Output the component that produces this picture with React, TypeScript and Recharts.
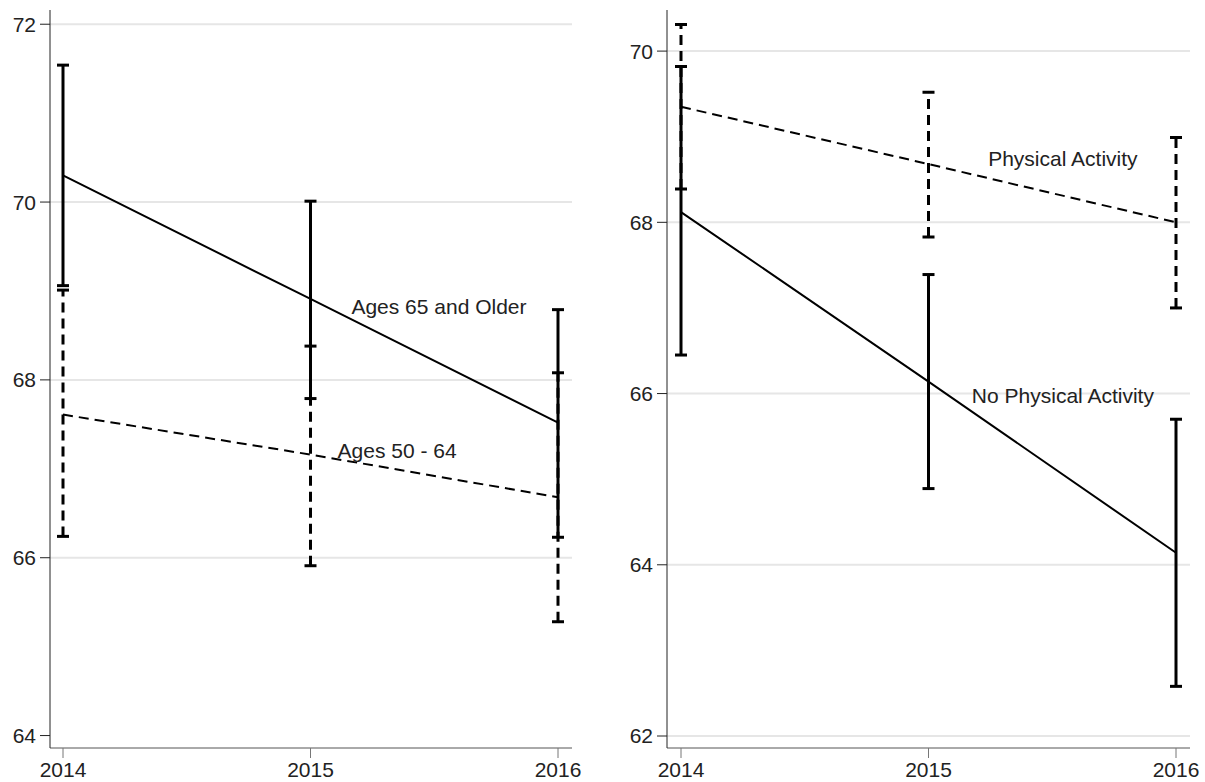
import React from 'react';
import {
  ComposedChart,
  Line,
  XAxis,
  YAxis,
  CartesianGrid,
  ErrorBar,
  ReferenceDot,
} from 'recharts';

// ---- data ----
const years = [2014, 2015, 2016];

// Left panel: age groups
const ages65Mean = [70.3, 68.91, 67.52];
const ages65Low = [69.06, 67.79, 66.23];
const ages65High = [71.54, 70.01, 68.79];

const ages50Mean = [67.61, 67.16, 66.68];
const ages50Low = [66.24, 65.91, 65.28];
const ages50High = [69.01, 68.38, 68.08];

// Right panel: physical activity
const paMean = [69.35, 68.68, 68.0];
const paLow = [68.39, 67.83, 67.0];
const paHigh = [70.31, 69.52, 68.99];

const noPaMean = [68.12, 66.14, 64.14];
const noPaLow = [66.45, 64.89, 62.58];
const noPaHigh = [69.82, 67.39, 65.7];

const leftTicks = [64, 66, 68, 70, 72];
const leftGrid = [66, 68, 70, 72];
const rightTicks = [62, 64, 66, 68, 70];
const rightGrid = [62, 64, 66, 68, 70];

const leftLabels = [
  { text: 'Ages 65 and Older', x: 2015.519, y: 68.82 },
  { text: 'Ages 50 - 64', x: 2015.35, y: 67.21 },
];
const rightLabels = [
  { text: 'Physical Activity', x: 2015.543, y: 68.74 },
  { text: 'No Physical Activity', x: 2015.543, y: 65.98 },
];

const leftData = years.map((year, i) => ({
  year,
  a: ages65Mean[i],
  aErr: [ages65Mean[i] - ages65Low[i], ages65High[i] - ages65Mean[i]],
  aLo: ages65Low[i],
  aHi: ages65High[i],
  b: ages50Mean[i],
  bErr: [ages50Mean[i] - ages50Low[i], ages50High[i] - ages50Mean[i]],
  bLo: ages50Low[i],
  bHi: ages50High[i],
}));

const rightData = years.map((year, i) => ({
  year,
  a: noPaMean[i],
  aErr: [noPaMean[i] - noPaLow[i], noPaHigh[i] - noPaMean[i]],
  aLo: noPaLow[i],
  aHi: noPaHigh[i],
  b: paMean[i],
  bErr: [paMean[i] - paLow[i], paHigh[i] - paMean[i]],
  bLo: paLow[i],
  bHi: paHigh[i],
}));

const FONT = '"Liberation Sans", Arial, Helvetica, sans-serif';
const DASH = '10 6';

const Cap = (props: any) => {
  const { cx, cy, index } = props;
  if (cx == null || cy == null) return <g key={index} />;
  return (
    <line
      key={index}
      x1={cx - 6}
      x2={cx + 6}
      y1={cy}
      y2={cy}
      stroke="#000"
      strokeWidth={3}
    />
  );
};

function Panel({
  data,
  width,
  height,
  yWidth,
  marginRight,
  domain,
  ticks,
  grid,
  labels,
  padLeft,
  padRight,
}: any) {
  return (
    <ComposedChart
      width={width}
      height={height}
      data={data}
      margin={{ top: 10, right: marginRight, bottom: 0, left: 0 }}
      style={{ fontFamily: FONT }}
    >
      <CartesianGrid
        vertical={false}
        horizontalValues={grid}
        stroke="#e6e6e6"
        strokeWidth={2}
      />
      <XAxis
        dataKey="year"
        type="number"
        domain={[2014, 2016]}
        ticks={years}
        interval={0}
        padding={{ left: padLeft, right: padRight }}
        height={34}
        tickSize={10}
        tickMargin={4}
        tick={{ fill: '#222', fontSize: 21, fontFamily: FONT }}
        axisLine={{ stroke: '#555' }}
        tickLine={{ stroke: '#777' }}
      />
      <YAxis
        type="number"
        domain={domain}
        ticks={ticks}
        interval={0}
        allowDataOverflow
        width={yWidth}
        tickSize={10}
        tickMargin={4}
        tick={{ fill: '#222', fontSize: 21, fontFamily: FONT }}
        axisLine={{ stroke: '#222' }}
        tickLine={{ stroke: '#222' }}
      />
      {/* solid series */}
      <Line
        dataKey="a"
        type="linear"
        stroke="#000"
        strokeWidth={2}
        dot={false}
        activeDot={false}
        isAnimationActive={false}
      >
        <ErrorBar dataKey="aErr" width={0} stroke="#000" strokeWidth={3} direction="y" />
      </Line>
      <Line dataKey="aLo" stroke="none" dot={Cap} activeDot={false} isAnimationActive={false} />
      <Line dataKey="aHi" stroke="none" dot={Cap} activeDot={false} isAnimationActive={false} />
      {/* dashed series */}
      <Line
        dataKey="b"
        type="linear"
        stroke="#000"
        strokeWidth={2}
        strokeDasharray={DASH}
        dot={false}
        activeDot={false}
        isAnimationActive={false}
      >
        <ErrorBar
          dataKey="bErr"
          width={0}
          stroke="#000"
          strokeWidth={3}
          strokeDasharray={DASH}
          direction="y"
        />
      </Line>
      <Line dataKey="bLo" stroke="none" dot={Cap} activeDot={false} isAnimationActive={false} />
      <Line dataKey="bHi" stroke="none" dot={Cap} activeDot={false} isAnimationActive={false} />
      {labels.map((l: any) => (
        <ReferenceDot
          key={l.text}
          x={l.x}
          y={l.y}
          r={0}
          fill="none"
          stroke="none"
          ifOverflow="visible"
          label={{
            value: l.text,
            position: 'center',
            fill: '#222',
            fontSize: 21,
            fontFamily: FONT,
          }}
        />
      ))}
    </ComposedChart>
  );
}

export default function App() {
  return (
    <div
      style={{
        position: 'absolute',
        left: 0,
        top: 0,
        width: 1205,
        height: 782,
        background: '#fff',
        fontFamily: FONT,
      }}
    >
      <div style={{ position: 'absolute', left: 0, top: 0 }}>
        <Panel
          data={leftData}
          width={590}
          height={782}
          yWidth={50}
          marginRight={18}
          domain={[63.86, 72.16]}
          ticks={leftTicks}
          grid={leftGrid}
          labels={leftLabels}
          padLeft={13}
          padRight={14}
        />
      </div>
      <div style={{ position: 'absolute', left: 590, top: 0 }}>
        <Panel
          data={rightData}
          width={615}
          height={782}
          yWidth={77}
          marginRight={15}
          domain={[61.86, 70.48]}
          ticks={rightTicks}
          grid={rightGrid}
          labels={rightLabels}
          padLeft={14}
          padRight={14}
        />
      </div>
    </div>
  );
}
